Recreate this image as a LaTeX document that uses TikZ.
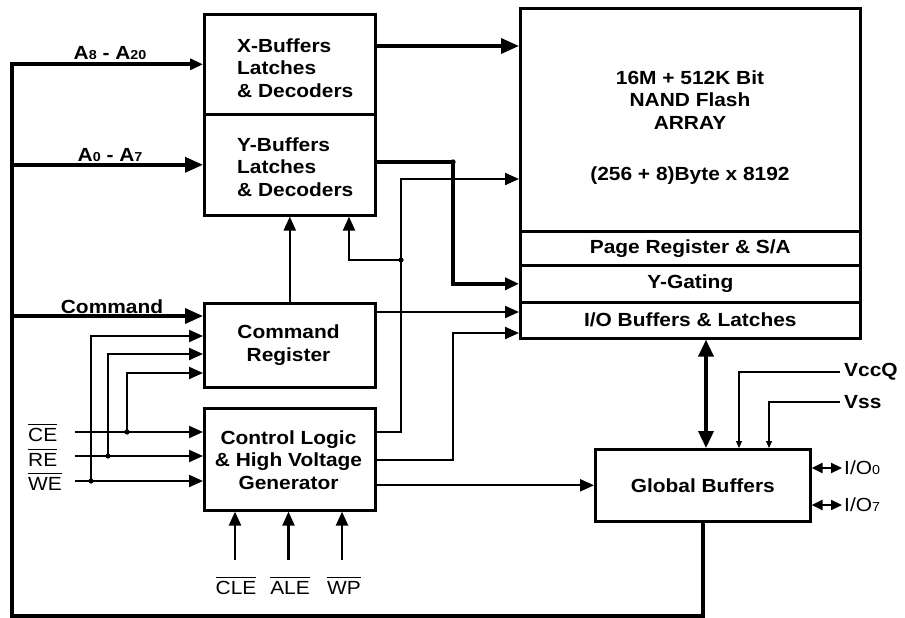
\documentclass[tikz,border=0pt]{standalone}
\usepackage{fontspec}
\setmainfont{Liberation Sans}[FakeStretch=1.1]
\usetikzlibrary{arrows.meta,calc}
\newcommand\ovl[1]{\leavevmode\vbox{\hrule height 1.3pt\kern 2.6pt\hbox{#1}}}
\newcommand\smallsub[1]{{\fontsize{13}{13}\selectfont #1}}
\begin{document}
\begin{tikzpicture}[x=1pt,y=-1pt,
  box/.style={draw, line width=2.6pt, anchor=north west, inner sep=0pt},
  txt/.style={font=\fontsize{19}{22.5}\selectfont\bfseries, align=center, inner sep=0pt},
  reg/.style={font=\fontsize{19}{22}\selectfont, inner sep=0pt},
  bus/.style={line width=3.6pt},
  sig/.style={line width=2.2pt},
  fine/.style={line width=1.1pt},
  bigtip/.style={-{Triangle[length=18pt,width=15pt]}},
  midtip/.style={-{Triangle[length=13pt,width=11pt]}},
  sigtip/.style={-{Triangle[length=14pt,width=12pt]}},
  smalltip/.style={-{Triangle[length=7pt,width=6pt]}},
  dbltip/.style={{Triangle[length=17pt,width=15pt]}-{Triangle[length=17pt,width=15pt]}},
  iotip/.style={{Triangle[length=11pt,width=10pt]}-{Triangle[length=11pt,width=10pt]}},
  dot/.style={fill=black}
]
\useasboundingbox (0,0) rectangle (905,618);

% boxes
\node[box, minimum width=171pt, minimum height=100pt] (XB) at (203,13) {};
\node[box, minimum width=171pt, minimum height=101pt] (YB) at (203,113) {};
\node[box, minimum width=171pt, minimum height=84pt] (CR) at (203,302) {};
\node[box, minimum width=171pt, minimum height=102pt] (CL) at (203,407) {};
\node[box, minimum width=340pt, minimum height=223pt] (ARR) at (519,7) {};
\node[box, minimum width=340pt, minimum height=34pt] (PR) at (519,230) {};
\node[box, minimum width=340pt, minimum height=37pt] (YG) at (519,264) {};
\node[box, minimum width=340pt, minimum height=36pt] (IO) at (519,301) {};
\node[box, minimum width=215pt, minimum height=72pt] (GB) at (594,448) {};

% box texts
\node[txt, align=left, anchor=west] (XBt) at (237,68) {X-Buffers\\Latches\\\& Decoders};
\node[txt, align=left, anchor=west] (YBt) at (237,167) {Y-Buffers\\Latches\\\& Decoders};
\node[txt] (CRt) at (288.5,345) {Command\\Register};
\node[txt] (CLt) at (288.5,460) {Control Logic\\\& High Voltage\\Generator};
\node[txt] (ARRt) at (690,100) {16M + 512K Bit\\NAND Flash\\ARRAY};
\node[txt] (ARRt2) at (690,176) {(256 + 8)Byte x 8192};
\node[txt] (PRt) at (PR.center) {Page Register \& S/A};
\node[txt] (YGt) at (YG.center) {Y-Gating};
\node[txt] (IOt) at (IO.center) {I/O Buffers \& Latches};
\node[txt] (GBt) at (GB.center) {Global Buffers};

% labels
\node[txt] (lA8) at (110,53) {A\smallsub{8} - A\smallsub{20}};
\node[txt] (lA0) at (110,155) {A\smallsub{0} - A\smallsub{7}};
\node[txt] (lcmd) at (112,307) {Command};
\node[reg, anchor=base west] (lce) at (28,441) {\ovl{CE}};
\node[reg, anchor=base west] (lre) at (28,466) {\ovl{RE}};
\node[reg, anchor=base west] (lwe) at (28,490) {\ovl{WE}};
\node[reg, anchor=base] (lcle) at (236,594) {\ovl{CLE}};
\node[reg, anchor=base] (lale) at (290,594) {\ovl{ALE}};
\node[reg, anchor=base] (lwp) at (344,594) {\ovl{WP}};
\node[txt, anchor=west, inner xsep=4pt] (lvcc) at (840,372) {VccQ};
\node[txt, anchor=west, inner xsep=4pt] (lvss) at (840,402) {Vss};
\node[reg, anchor=west, inner xsep=2pt] (lio0) at (842,468) {I/O\smallsub{0}};
\node[reg, anchor=west, inner xsep=2pt] (lio7) at (842,505) {I/O\smallsub{7}};

% coordinates
\coordinate (bl) at (12,616);
\coordinate (cmd) at (12,316);
\coordinate (xo) at (400,46);
\coordinate (yj) at (453,162);
\coordinate (c1) at (401,432);
\coordinate (aY) at (401,179);
\coordinate (c2) at (401,260);
\coordinate (c3) at (349,260);
\coordinate (r1) at (400,312);
\coordinate (c4) at (453,460);
\coordinate (c5) at (453,333);
\coordinate (io) at (706,400);
\coordinate (v1) at (739,372);
\coordinate (v2) at (769,402);
\coordinate (ce0) at (75,432);
\coordinate (ced) at (127,432);
\coordinate (cet) at (127,373);
\coordinate (re0) at (75,456);
\coordinate (red) at (108,456);
\coordinate (ret) at (108,354);
\coordinate (we0) at (75,481);
\coordinate (wed) at (91,481);
\coordinate (wet) at (91,336);
\coordinate (cle0) at (235,560);
\coordinate (ale0) at (288.5,560);
\coordinate (wp0) at (342,560);

% address / command bus
\draw[bus, midtip] (GB.south) -- (GB.south |- bl) -- (bl) -- (bl |- XB.west) -- (XB.west);
\draw[bus, bigtip] (bl |- YB.west) -- (YB.west);
\draw[bus, bigtip] (cmd) -- (cmd -| CR.west);

% X / Y outputs
\draw[bus, bigtip] (xo -| XB.east) -- (xo -| ARR.west);
\draw[bus, sigtip] (yj -| YB.east) -- (yj) -- (yj |- YG.west) -- (YG.west);
\fill[dot] (yj) circle (2.7pt);

% control logic outputs
\draw[sig, sigtip] (c1 -| CL.east) -- (c1) -- (aY) -- (aY -| ARR.west);
\draw[sig, sigtip] (c2) -- (c3) -- (c3 |- YB.south);
\fill[dot] (c2) circle (2.6pt);
\draw[sig, sigtip] (c4 -| CL.east) -- (c4) -- (c5) -- (c5 -| IO.west);
\draw[sig, sigtip] (GB.west -| CL.east) -- (GB.west);

% command register outputs
\draw[sig, sigtip] (r1 -| CR.east) -- (r1 -| IO.west);
\draw[sig, sigtip] (CR.north) -- (YB.south);

% I/O buffers <-> global buffers
\draw[bus, dbltip] (io |- IO.south) -- (io |- GB.north);

% power
\draw[fine, smalltip] (lvcc.west) -- (v1) -- (v1 |- GB.north);
\draw[fine, smalltip] (lvss.west) -- (v2) -- (v2 |- GB.north);

% I/O pins
\draw[sig, iotip] (GB.east |- lio0.west) -- (lio0.west);
\draw[sig, iotip] (GB.east |- lio7.west) -- (lio7.west);

% CE RE WE
\draw[sig, sigtip] (ce0) -- (ce0 -| CL.west);
\draw[sig, sigtip] (ced) -- (cet) -- (cet -| CR.west);
\fill[dot] (ced) circle (2.6pt);
\draw[sig, sigtip] (re0) -- (re0 -| CL.west);
\draw[sig, sigtip] (red) -- (ret) -- (ret -| CR.west);
\fill[dot] (red) circle (2.6pt);
\draw[sig, sigtip] (we0) -- (we0 -| CL.west);
\draw[sig, sigtip] (wed) -- (wet) -- (wet -| CR.west);
\fill[dot] (wed) circle (2.6pt);

% CLE ALE WP
\draw[sig, sigtip] (cle0) -- (cle0 |- CL.south);
\draw[sig, sigtip] (ale0) -- (ale0 |- CL.south);
\draw[sig, sigtip] (wp0) -- (wp0 |- CL.south);
\end{tikzpicture}
\end{document}
